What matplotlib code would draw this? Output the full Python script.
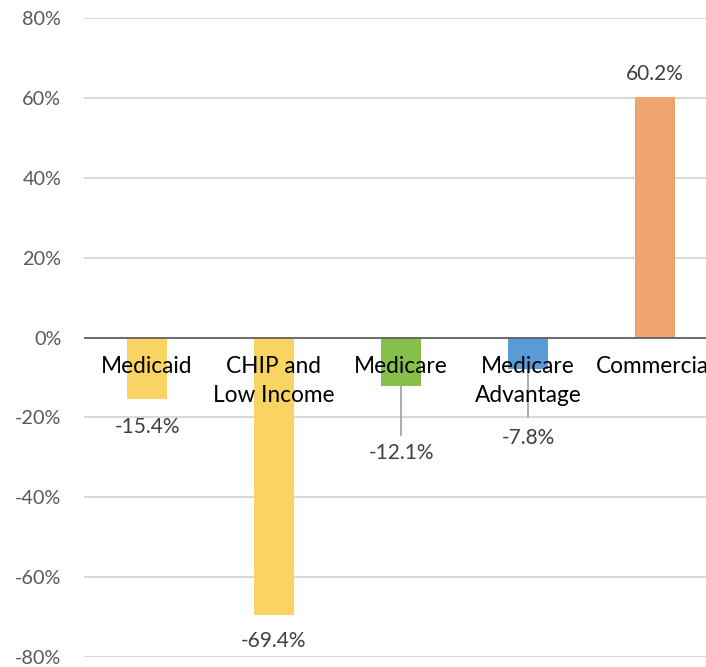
import matplotlib
matplotlib.use("Agg")
import matplotlib.pyplot as plt
from matplotlib.ticker import FuncFormatter

categories = ["Medicaid", "CHIP and\nLow Income", "Medicare", "Medicare\nAdvantage", "Commercial"]
values = [-15.4, -69.4, -12.1, -7.8, 60.2]
colors = ["#F9D462", "#F9D462", "#86C04B", "#5B9BD5", "#EDA56D"]
yticks = [-80, -60, -40, -20, 0, 20, 40, 60, 80]

# label layout (data units): label centre y, and leader line end (None = no leader)
label_y = [-22.4, -76.1, -28.9, -25.1, 66.1]
leader_end = [None, None, -24.4, -19.9, None]

plt.rcParams['font.family'] = ['Lato', 'DejaVu Sans']

fig = plt.figure(figsize=(7.06, 6.67), dpi=100)
ax = fig.add_axes([83.5 / 706, 1 - 657 / 667, 635 / 706, (657 - 18) / 667])

x = list(range(len(categories)))
ax.bar(x, values, width=0.31, color=colors, zorder=2)

ax.set_xlim(-0.5, len(categories) - 0.5)
ax.set_ylim(-80, 80)
ax.set_yticks(yticks)
ax.yaxis.set_major_formatter(FuncFormatter(lambda v, p: f"{v:.0f}%"))
ax.tick_params(axis='y', length=0, pad=16, labelsize=14.3, labelcolor="#595959")
ax.set_xticks([])
ax.grid(axis='y', color="#D9D9D9", linewidth=1.5, zorder=0)
for s in ax.spines.values():
    s.set_visible(False)
ax.axhline(0, color="#595959", linewidth=1.2, zorder=3)

for xi, cat in zip(x, categories):
    ax.text(xi, -4.6, cat, ha='center', va='top', fontsize=16.3, color="black",
            linespacing=1.5, zorder=4)

for xi, v, ly, le in zip(x, values, label_y, leader_end):
    ax.text(xi, ly, f"{v:.1f}%", ha='center', va='center', fontsize=15,
            color="#404040", zorder=4)
    if le is not None:
        ax.plot([xi, xi], [v, le], color="#A6A6A6", linewidth=1.3, zorder=3)

fig.savefig("out.png", dpi=100)
